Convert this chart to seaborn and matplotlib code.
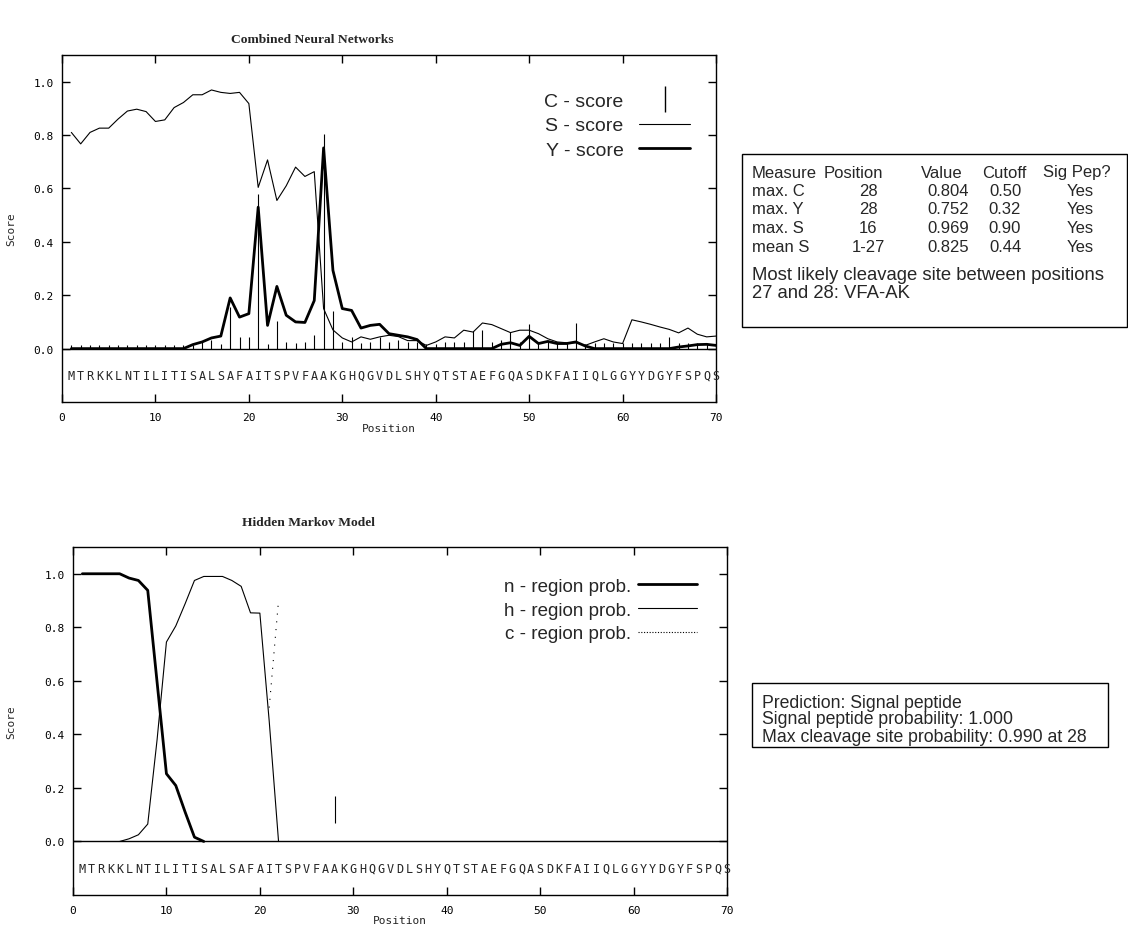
import numpy as np
import matplotlib
matplotlib.use("Agg")
import matplotlib.pyplot as plt
from matplotlib.lines import Line2D
from matplotlib.patches import Rectangle
from matplotlib.legend_handler import HandlerLine2D
import seaborn as sns

# Sequence and SignalP scores
sequence = "MTRKKLNTILITISALSAFAITSPVFAAKGHQGVDLSHYQTSTAEFGQASDKFAIIQLGGYYDGYFSPQS"
positions = np.arange(1, 71)

c_score = [0.015, 0.015, 0.015, 0.015, 0.015, 0.015, 0.015, 0.015, 0.015, 0.015,
           0.015, 0.015, 0.015, 0.012, 0.025, 0.031, 0.019, 0.155, 0.044, 0.044,
           0.58, 0.019, 0.102, 0.025, 0.021, 0.025, 0.052, 0.804, 0.14, 0.025,
           0.044, 0.021, 0.025, 0.044, 0.025, 0.031, 0.025, 0.025, 0.019, 0.019,
           0.025, 0.025, 0.025, 0.065, 0.069, 0.025, 0.031, 0.062, 0.025, 0.093,
           0.025, 0.025, 0.025, 0.025, 0.097, 0.019, 0.02, 0.02, 0.02, 0.02,
           0.02, 0.02, 0.02, 0.02, 0.044, 0.02, 0.02, 0.02, 0.02, 0.02]

s_score = [0.81, 0.767, 0.81, 0.826, 0.826, 0.86, 0.89, 0.897, 0.888, 0.851,
           0.857, 0.903, 0.922, 0.951, 0.951, 0.969, 0.96, 0.956, 0.96, 0.918,
           0.604, 0.707, 0.555, 0.61, 0.68, 0.645, 0.663, 0.15, 0.07, 0.04,
           0.025, 0.044, 0.035, 0.044, 0.05, 0.045, 0.03, 0.03, 0.012, 0.025,
           0.044, 0.04, 0.069, 0.062, 0.096, 0.09, 0.075, 0.06, 0.069, 0.069,
           0.056, 0.037, 0.025, 0.022, 0.022, 0.012, 0.025, 0.037, 0.025, 0.019,
           0.108, 0.1, 0.091, 0.081, 0.072, 0.059, 0.077, 0.054, 0.044, 0.047]

y_score = [0, 0, 0, 0, 0, 0, 0, 0, 0, 0,
           0, 0, 0, 0.015, 0.025, 0.04, 0.047, 0.19, 0.118, 0.131,
           0.53, 0.087, 0.233, 0.125, 0.1, 0.098, 0.18, 0.752, 0.293, 0.15,
           0.143, 0.077, 0.087, 0.091, 0.056, 0.05, 0.044, 0.034, 0.0, 0.0,
           0, 0, 0, 0, 0, 0, 0.016, 0.022, 0.012, 0.046,
           0.019, 0.027, 0.019, 0.019, 0.025, 0.01, 0, 0, 0, 0,
           0, 0, 0, 0, 0, 0.006, 0.01, 0.015, 0.016, 0.012]

# HMM region probabilities
n_pos = list(range(1, 15))
n_prob = [1.0, 1.0, 1.0, 1.0, 1.0, 0.984, 0.975, 0.938, 0.595, 0.253, 0.209, 0.11, 0.016, 0.0]
h_pos = list(range(5, 23))
h_prob = [0.0, 0.01, 0.025, 0.065, 0.38, 0.745, 0.805, 0.888, 0.975, 0.99,
          0.99, 0.99, 0.975, 0.953, 0.854, 0.853, 0.45, 0.0]
c_pos = [21, 22]
c_prob = [0.5, 0.9]
cleave_pos = [28]
cleave_lo = [0.07]
cleave_hi = [0.17]

# text panels
measures = ["max. C", "max. Y", "max. S", "mean S"]
meas_pos = ["28", "28", "16", "1-27"]
meas_val = ["0.804", "0.752", "0.969", "0.825"]
cutoffs = ["0.50", "0.32", "0.90", "0.44"]
sig_pep = ["Yes", "Yes", "Yes", "Yes"]
headers = ["Measure", "Position", "Value", "Cutoff", "Sig Pep?"]
hmm_lines = ["Prediction: Signal peptide",
             "Signal peptide probability: 1.000",
             "Max cleavage site probability: 0.990 at 28"]

sns.set_theme(style="white")
plt.rcParams["font.family"] = ["Liberation Sans", "DejaVu Sans"]
mono = "DejaVu Sans Mono"

W, H = 1128, 928
fig = plt.figure(figsize=(W / 100, H / 100), dpi=100)
ax1 = fig.add_axes([62 / W, 1 - 403 / H, 654 / W, 347 / H])
ax2 = fig.add_axes([73 / W, 1 - 896 / H, 654 / W, 348 / H])


class LeftMarker(HandlerLine2D):
    # put the single legend marker at the left end of the handle
    def get_xdata(self, legend, xdescent, ydescent, width, height, fontsize):
        xdata, _ = super().get_xdata(legend, xdescent, ydescent, width, height, fontsize)
        return xdata, np.array([-xdescent + 1.0])


def style_axes(ax, ylab_x, xlab_y):
    ax.set_xlim(0, 70)
    ax.set_ylim(-0.2, 1.1)
    ax.set_xticks(range(0, 71, 10))
    ax.set_yticks([0.0, 0.2, 0.4, 0.6, 0.8, 1.0])
    ax.set_yticklabels(["0.0", "0.2", "0.4", "0.6", "0.8", "1.0"])
    ax.tick_params(direction="in", length=6, width=1, top=True, right=True,
                   bottom=True, left=True, labelsize=8, colors="black")
    ax.tick_params(axis="x", pad=7.5)
    ax.tick_params(axis="y", pad=6)
    for lab in ax.get_xticklabels() + ax.get_yticklabels():
        lab.set_family(mono)
    for sp in ax.spines.values():
        sp.set_color("black")
        sp.set_linewidth(1.0)
    ax.axhline(0, color="black", lw=1.0)
    ax.set_xlabel("Position", family=mono, fontsize=8)
    ax.set_ylabel("Score", family=mono, fontsize=8)
    ax.xaxis.set_label_coords(0.5, xlab_y)
    ax.yaxis.set_label_coords(ylab_x, 0.5)
    for p, aa in zip(positions, sequence):
        ax.text(p, -0.1, aa, ha="center", va="center", family=mono, fontsize=8.5)


# Combined neural networks panel
ax1.vlines(positions, 0, c_score, color="black", lw=0.8)
sns.lineplot(x=positions, y=s_score, ax=ax1, color="black", lw=0.8)
sns.lineplot(x=positions, y=y_score, ax=ax1, color="black", lw=2.0)
style_axes(ax1, -0.070, -0.060)
c_handle = Line2D([], [], color="black", marker="|", markersize=19, mew=1, ls="None")
h1 = [c_handle,
      Line2D([], [], color="black", lw=0.8),
      Line2D([], [], color="black", lw=2.0)]
ax1.legend(h1, ["C - score", "S - score", "Y - score"], loc="upper right",
           bbox_to_anchor=(0.96, 0.893), frameon=False, markerfirst=False,
           fontsize=14, handlelength=2.6, handletextpad=0.8, labelspacing=0.36,
           borderpad=0, borderaxespad=0, handler_map={c_handle: LeftMarker()})

# Hidden Markov model panel
sns.lineplot(x=n_pos, y=n_prob, ax=ax2, color="black", lw=2.0)
sns.lineplot(x=h_pos, y=h_prob, ax=ax2, color="black", lw=0.8)
sns.lineplot(x=c_pos, y=c_prob, ax=ax2, color="black", lw=0.8)
ax2.lines[-1].set_linestyle((0, (1, 6)))
ax2.vlines(cleave_pos, cleave_lo, cleave_hi, color="black", lw=0.8)
style_axes(ax2, -0.087, -0.057)
h2 = [Line2D([], [], color="black", lw=2.0),
      Line2D([], [], color="black", lw=0.8),
      Line2D([], [], color="black", lw=0.8, ls=(0, (1, 1.5)))]
ax2.legend(h2, ["n - region prob.", "h - region prob.", "c - region prob."],
           loc="upper right", bbox_to_anchor=(0.954, 0.912), frameon=False,
           markerfirst=False, fontsize=13.5, handlelength=3.15, handletextpad=0.37,
           labelspacing=0.36, borderpad=0, borderaxespad=0)

# titles
fig.text(312 / W, 1 - 40 / H, "Combined Neural Networks", ha="center", va="center",
         family="Liberation Serif", fontweight="bold", fontsize=9.7)
fig.text(308 / W, 1 - 523 / H, "Hidden Markov Model", ha="center", va="center",
         family="Liberation Serif", fontweight="bold", fontsize=9.7)

# summary table box
fig.add_artist(Rectangle((741.5 / W, 1 - 328 / H), (1127 - 741.5) / W, (328 - 155) / H,
                         transform=fig.transFigure, fill=False, ec="black", lw=1.0))
tfs = 12
for txt, x in zip(headers, [752, 824, 921, 982, 1043]):
    fig.text(x / W, 1 - 173 / H, txt, ha="left", va="center", fontsize=tfs)
row_y = [191.7, 210, 228.5, 247]
for i, yy in enumerate(row_y):
    fig.text(752 / W, 1 - yy / H, measures[i], ha="left", va="center", fontsize=tfs)
    fig.text(868 / W, 1 - yy / H, meas_pos[i], ha="center", va="center", fontsize=tfs)
    fig.text(948 / W, 1 - yy / H, meas_val[i], ha="center", va="center", fontsize=tfs)
    fig.text(1005 / W, 1 - yy / H, cutoffs[i], ha="center", va="center", fontsize=tfs)
    fig.text(1080 / W, 1 - yy / H, sig_pep[i], ha="center", va="center", fontsize=tfs)
fig.text(752 / W, 1 - 275 / H, "Most likely cleavage site between positions",
         ha="left", va="center", fontsize=13.3)
fig.text(752 / W, 1 - 294 / H, "27 and 28: VFA-AK", ha="left", va="center", fontsize=13.3)

# HMM summary box
fig.add_artist(Rectangle((751.5 / W, 1 - 747.5 / H), (1108 - 751.5) / W, (747.5 - 684) / H,
                         transform=fig.transFigure, fill=False, ec="black", lw=1.0))
for txt, yy in zip(hmm_lines, [703, 720, 737]):
    fig.text(762 / W, 1 - yy / H, txt, ha="left", va="center", fontsize=12.7)

fig.savefig("out.png", dpi=100)
